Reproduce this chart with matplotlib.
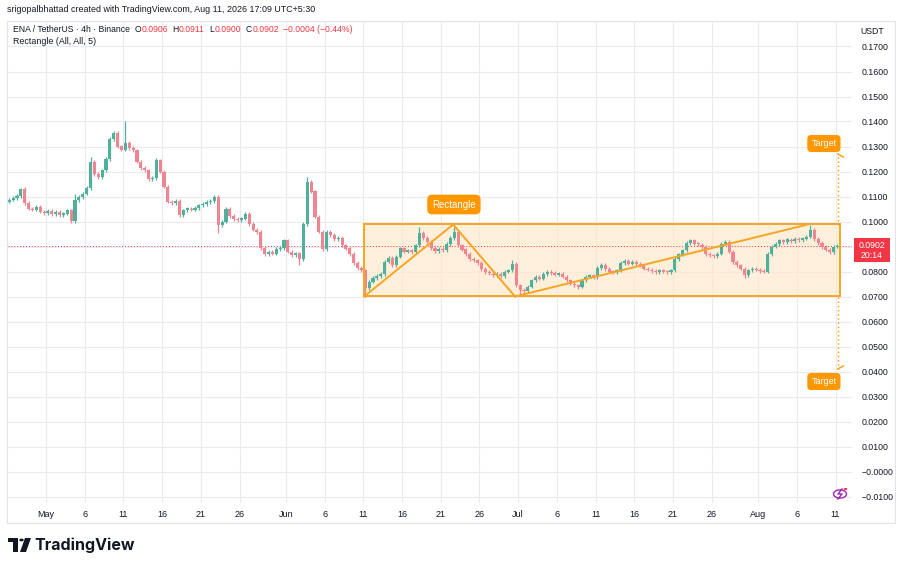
import matplotlib
matplotlib.use("Agg")
from matplotlib import pyplot as plt
from matplotlib.patches import Rectangle, Circle
from matplotlib.text import Annotation
import numpy as np

# 12h candles starting Apr 26 (day -5 = days from May 1)
start_day = -5
first_open = 0.1080
closes = [
    0.1088, 0.1095,  0.1102, 0.1130,  0.1075, 0.1052,  0.1048, 0.1060,  0.1040, 0.1035,
    0.1042, 0.1030,  0.1038, 0.1025,  0.1032, 0.1045,  0.1002, 0.1085,  0.1098, 0.1112,
    0.1135, 0.1240,  0.1190, 0.1178,  0.1205, 0.1250,  0.1330, 0.1355,  0.1300, 0.1288,
    0.1315, 0.1295,  0.1285, 0.1240,  0.1215, 0.1205,  0.1170, 0.1175,  0.1245, 0.1200,
    0.1140, 0.1080,  0.1075, 0.1082,  0.1025, 0.1045,  0.1052, 0.1048,  0.1055, 0.1065,
    0.1070, 0.1078,  0.1082, 0.1098,  0.0985, 0.1000,  0.1050, 0.1022,  0.1010, 0.1005,
    0.1012, 0.1032,  0.0990, 0.0968,  0.0958, 0.0895,  0.0870, 0.0880,  0.0872, 0.0890,
    0.0895, 0.0925,  0.0880, 0.0865,  0.0872, 0.0850,  0.0990, 0.1160,  0.1120, 0.1020,
    0.0960, 0.0890,  0.0960, 0.0945,  0.0930, 0.0935,  0.0905, 0.0892,  0.0870, 0.0835,
    0.0815, 0.0805,  0.0735, 0.0760,  0.0775, 0.0782,  0.0790, 0.0840,  0.0855, 0.0825,
    0.0860, 0.0892,  0.0880, 0.0885,  0.0878, 0.0905,  0.0955, 0.0935,  0.0920, 0.0895,
    0.0882, 0.0890,  0.0885, 0.0910,  0.0935, 0.0960,  0.0905, 0.0888,  0.0870, 0.0850,
    0.0845, 0.0835,  0.0810, 0.0798,  0.0792, 0.0785,  0.0790, 0.0782,  0.0800, 0.0805,
    0.0830, 0.0745,  0.0728, 0.0722,  0.0740, 0.0765,  0.0778, 0.0772,  0.0790, 0.0798,
    0.0795, 0.0788,  0.0792, 0.0780,  0.0765, 0.0752,  0.0745, 0.0740,  0.0765, 0.0780,
    0.0785, 0.0778,  0.0815, 0.0828,  0.0810, 0.0800,  0.0798, 0.0805,  0.0835, 0.0842,
    0.0832, 0.0838,  0.0830, 0.0825,  0.0812, 0.0808,  0.0802, 0.0798,  0.0805, 0.0800,
    0.0798, 0.0805,  0.0850, 0.0868,  0.0885, 0.0915,  0.0925, 0.0912,  0.0908, 0.0898,
    0.0870, 0.0865,  0.0862, 0.0872,  0.0912, 0.0918,  0.0880, 0.0838,  0.0825, 0.0812,
    0.0785, 0.0805,  0.0812, 0.0808,  0.0802, 0.0800,  0.0870, 0.0900,  0.0910, 0.0925,
    0.0918, 0.0928,  0.0922, 0.0930,  0.0925, 0.0932,  0.0940, 0.0965,  0.0930, 0.0915,
    0.0898, 0.0888,  0.0878, 0.0900,  0.0902,
]
# notable wick extremes (candle index -> price)
wick_highs = {3: 0.1136, 17: 0.1110, 21: 0.1257, 27: 0.1362, 30: 0.1400, 38: 0.1255, 53: 0.1105,
              77: 0.1180, 106: 0.0980, 115: 0.0980, 130: 0.0848, 207: 0.0985}
wick_lows = {16: 0.0995, 54: 0.0956, 75: 0.0827, 92: 0.0700, 132: 0.0705, 147: 0.0732, 190: 0.0775}
wick = 0.0007

last_price = 0.0902
rect_start, rect_end = 41.1, 102.6
rect_low, rect_high = 0.0700, 0.0988
zigzag_x = [41.1, 52.6, 60.6]
zigzag_y = [0.0700, 0.0988, 0.0700]
trend_x = [60.6, 98.4]
trend_y = [0.0700, 0.0988]
target_up = 0.1270
target_down = 0.0410

price_ticks = np.round(np.arange(-0.01, 0.1701, 0.01), 4)
date_ticks = [0, 5, 10, 15, 20, 25, 31, 36, 41, 46, 51, 56, 61, 66, 71, 76, 81, 86, 92, 97, 102]
date_labels = ["May", "6", "11", "16", "21", "26", "Jun", "6", "11", "16", "21", "26",
               "Jul", "6", "11", "16", "21", "26", "Aug", "6", "11"]

plt.rcParams['font.family'] = ['Liberation Sans', 'DejaVu Sans']

W, H = 900, 566
fig = plt.figure(figsize=(W / 100, H / 100), dpi=100)
fig.patch.set_facecolor('white')


def fx(px):
    return px / W


def fy(py):
    return 1 - py / H


ax = fig.add_axes([fx(8), fy(503), fx(852 - 8), (503 - 21) / H])
ax.set_xlim(-4.91, 104.13)
ax.set_ylim(-0.0126, 0.1802)
for s in ax.spines.values():
    s.set_visible(False)


def price_label(p):
    if p == 0:
        return "−0.0000"
    if abs(p - last_price) < 0.001:
        return ""  # hidden behind the last price tag
    return "−%.4f" % -p if p < 0 else "%.4f" % p


ax.set_xticks(date_ticks)
ax.set_xticklabels(date_labels)
ax.set_yticks(price_ticks)
ax.set_yticklabels([price_label(p) for p in price_ticks])
ax.yaxis.tick_right()
ax.tick_params(axis='y', length=0, pad=7, labelsize=6.3, labelcolor='#131722')
ax.tick_params(axis='x', length=0, pad=5, labelsize=6.5, labelcolor='#131722')
ax.grid(True, color='#e9ebf0', lw=0.8, zorder=0)
ax.set_axisbelow(True)

# rectangle pattern
ax.add_patch(Rectangle((rect_start, rect_low), rect_end - rect_start, rect_high - rect_low,
                       fc='#ffe9cc', ec='none', alpha=0.7, zorder=1))
ax.add_patch(Rectangle((rect_start, rect_low), rect_end - rect_start, rect_high - rect_low,
                       fc='none', ec='#f5a623', lw=1.4, zorder=4))

# candles
opens = [first_open] + closes[:-1]
t = start_day + 0.5 * np.arange(len(closes)) + 0.25
for i, (o, c) in enumerate(zip(opens, closes)):
    up = c >= o
    col = '#4fb19c' if up else '#ee8591'
    hi = wick_highs.get(i, max(o, c) + wick)
    lo = wick_lows.get(i, min(o, c) - wick)
    ax.vlines(t[i], lo, hi, color=col, lw=0.9, zorder=2)
    body = max(abs(c - o), 0.0003)
    ax.bar(t[i], body, bottom=min(o, c), width=0.4, color=col, lw=0, zorder=2)

# current price line
ax.axhline(last_price, color='#f23645', lw=0.7, ls=(0, (1, 2)), zorder=1.5)

# zigzag / trend lines
ax.plot(zigzag_x, zigzag_y, color='#f5a623', lw=1.4, zorder=4)
ax.plot(trend_x, trend_y, color='#f5a623', lw=1.4, zorder=4)

# targets
ax.plot([102.3, 102.3], [rect_high, target_up], color='#ff9800', lw=1, ls=(0, (1, 2)), zorder=4)
ax.plot([102.3, 102.3], [rect_low, target_down], color='#ff9800', lw=1, ls=(0, (1, 2)), zorder=4)
ax.plot([102.3, 103.0], [target_up, target_up - 0.0012], color='#ff9800', lw=1, zorder=4)
ax.plot([102.3, 103.0], [target_down, target_down + 0.0012], color='#ff9800', lw=1, zorder=4)
box = dict(boxstyle='round,pad=0.45', fc='#ff9800', ec='none')
ax.text(100.5, 0.1312, "Target", color='white', fontsize=6.5, ha='center', va='center',
        bbox=box, zorder=5)
ax.text(100.5, 0.0360, "Target", color='white', fontsize=6.5, ha='center', va='center',
        bbox=box, zorder=5)
ax.text(52.7, 0.1068, "Rectangle", color='white', fontsize=7, ha='center', va='center',
        bbox=dict(boxstyle='round,pad=0.5', fc='#ff9800', ec='none'), zorder=5)

# panel border
fig.patches.append(Rectangle((fx(7), fy(523)), fx(895 - 7), (523 - 21) / H, transform=fig.transFigure,
                             fc='none', ec='#e0e3eb', lw=0.8))

# header
fig.text(fx(7), fy(10), "srigopalbhattad created with TradingView.com, Aug 11, 2026 17:09 UTC+5:30",
         fontsize=6.4, color='#131722', va='center')

red = '#f23645'
dark = '#131722'
legend_parts = [("ENA / TetherUS · 4h · Binance", dark, 0), ("O", dark, 3), ("0.0906", red, 0.5),
                ("H", dark, 3), ("0.0911", red, 0.5), ("L", dark, 3), ("0.0900", red, 0.5),
                ("C", dark, 3), ("0.0902", red, 0.5), ("−0.0004 (−0.44%)", red, 3)]
prev = fig.text(fx(13), fy(29), legend_parts[0][0], fontsize=6.2, color=dark, va='center')
for txt, col, gap in legend_parts[1:]:
    a = Annotation(txt, xy=(1, 0.5), xycoords=prev, xytext=(gap, 0), textcoords='offset points',
                   fontsize=6.2, color=col, va='center', ha='left', annotation_clip=False)
    fig.add_artist(a)
    prev = a
fig.text(fx(13), fy(42), "Rectangle (All, All, 5)", fontsize=6.4, color=dark, va='center')
fig.text(fx(872), fy(31), "USDT", fontsize=6.3, color=dark, va='center', ha='center')

# last price tag
fig.patches.append(Rectangle((fx(854), fy(262)), fx(36), 24 / H, transform=fig.transFigure,
                             fc=red, ec='none', zorder=5))
fig.text(fx(872), fy(245), "0.0902", fontsize=6.3, color='white', ha='center', va='center', zorder=6)
fig.text(fx(872), fy(256), "20:14", fontsize=6.3, color='white', ha='center', va='center', zorder=6)

# lightning icon
fig.patches.append(Circle((fx(840), fy(494)), 6.5 / W, transform=fig.transFigure,
                          fc='white', ec='#9c27b0', lw=1))
fig.lines.append(plt.Line2D([fx(842), fx(838), fx(842), fx(838)], [fy(489), fy(494), fy(494), fy(499)],
                            transform=fig.transFigure, color='#9c27b0', lw=1))
fig.patches.append(Circle((fx(845.5), fy(489)), 1.8 / W, transform=fig.transFigure, fc='#f23645', ec='none'))

# TradingView logo
fig.patches.append(Rectangle((fx(8), fy(542)), fx(10), 4 / H, transform=fig.transFigure, fc=dark, ec='none'))
fig.patches.append(Rectangle((fx(13), fy(552)), fx(5), 14 / H, transform=fig.transFigure, fc=dark, ec='none'))
fig.patches.append(Circle((fx(21.5), fy(540)), 2.2 / W, transform=fig.transFigure, fc=dark, ec='none'))
fig.patches.append(plt.Polygon([(fx(25), fy(538)), (fx(31), fy(538)), (fx(26), fy(552)), (fx(20), fy(552))],
                               closed=True, transform=fig.transFigure, fc=dark, ec='none'))
fig.text(fx(34), fy(545), "TradingView", fontsize=11.5, fontweight='bold', color=dark, va='center',
         family=['Inter', 'DejaVu Sans'])

fig.savefig('out.png', dpi=100, facecolor='white')
